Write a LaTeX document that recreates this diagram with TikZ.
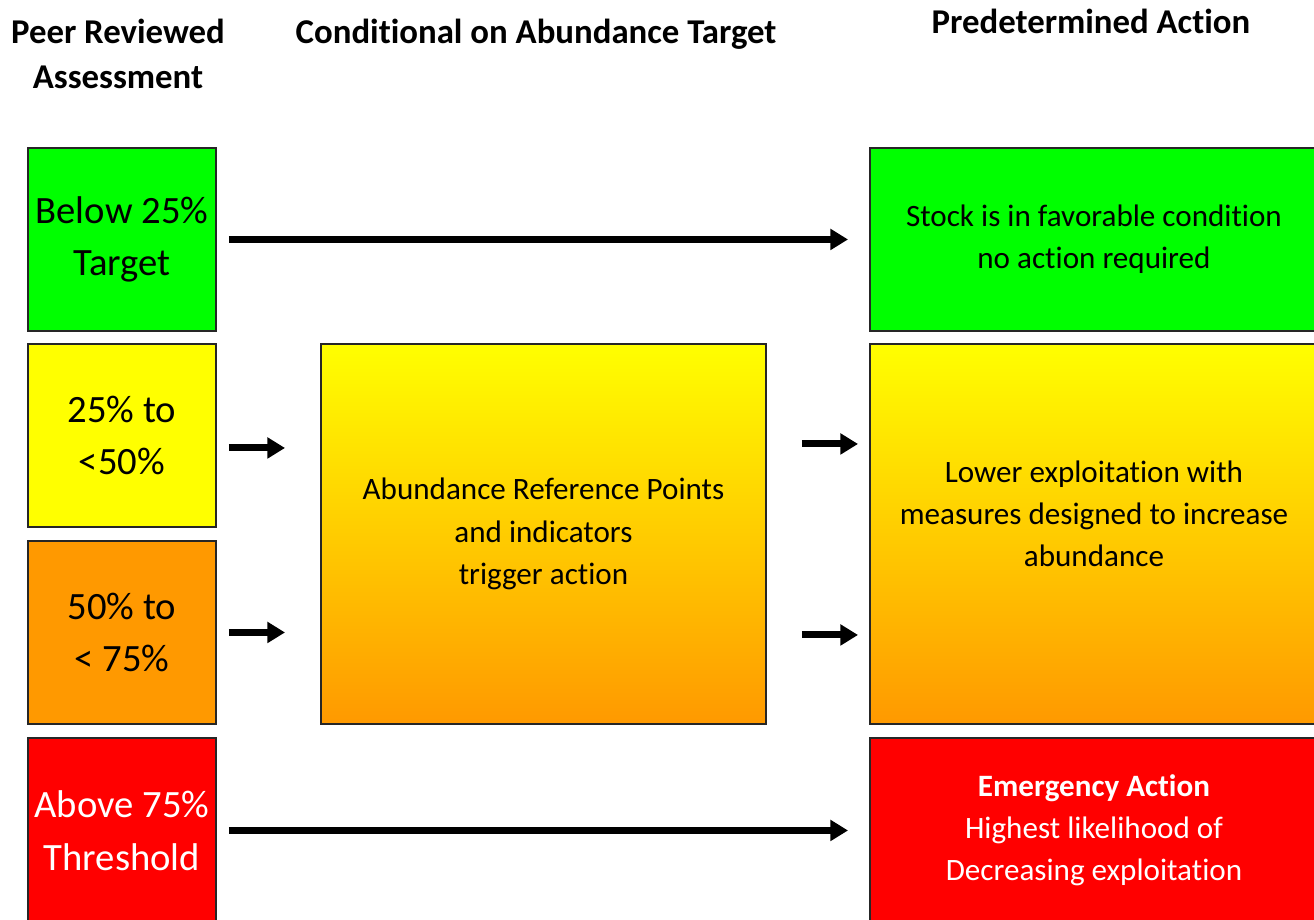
\documentclass[tikz,border=0pt]{standalone}
\usepackage{fontspec}
\setmainfont{Carlito}[Ligatures=NoCommon]
\usetikzlibrary{arrows.meta}
\definecolor{cgreen}{HTML}{00FF00}
\definecolor{cyellow}{HTML}{FFFF00}
\definecolor{corange}{HTML}{FF9900}
\definecolor{cred}{HTML}{FF0000}

\begin{document}
\begin{tikzpicture}[>={Triangle[length=10pt,width=11.5pt]},
  cell/.style={draw=black!85,line width=1.1pt,anchor=north west,align=center,inner sep=0pt},
  lefttext/.style={font=\fontsize{22}{30}\selectfont},
  righttext/.style={font=\fontsize{17.7}{24}\selectfont},
  head/.style={font=\fontsize{19.8}{26}\selectfont\bfseries,align=center},
  link/.style={->,line width=4pt}]
  \useasboundingbox (0,0) rectangle (26.28,-18.40);
  \clip (0,0) rectangle (26.28,-18.40);
  % column headers
  \node[head] (h1) at (2.36,-1.08) {Peer Reviewed\\Assessment};
  \node[head] (h2) at (10.72,-0.69) {Conditional on Abundance Target};
  \node[head] (h3) at (21.82,-0.42) {Predetermined Action};
  % assessment column
  \node[cell,lefttext,fill=cgreen,minimum width=3.76cm,minimum height=3.66cm] (lg) at (0.54,-2.94) {Below 25\%\\Target};
  \node[cell,lefttext,fill=cyellow,minimum width=3.76cm,minimum height=3.66cm] (ly) at (0.54,-6.86) {25\% to\\<50\%};
  \node[cell,lefttext,fill=corange,minimum width=3.76cm,minimum height=3.66cm] (lo) at (0.54,-10.80) {50\% to\\< 75\%};
  \node[cell,lefttext,fill=cred,text=white,minimum width=3.76cm,minimum height=3.70cm] (lr) at (0.54,-14.74) {Above 75\%\\Threshold};
  % middle box
  \node[cell,righttext,top color=cyellow,bottom color=corange,minimum width=8.90cm,minimum height=7.60cm] (mid) at (6.40,-6.86) {Abundance Reference Points\\and indicators\\trigger action};
  % action column
  \node[cell,righttext,fill=cgreen,minimum width=8.96cm,minimum height=3.66cm] (rg) at (17.38,-2.94) {Stock is in favorable condition\\no action required};
  \node[cell,top color=cyellow,bottom color=corange,minimum width=8.96cm,minimum height=7.60cm] (rm) at (17.38,-6.86) {};
  \node[righttext,align=center] (rmtext) at ([yshift=0.4cm]rm.center) {Lower exploitation with\\measures designed to increase\\abundance};
  \node[cell,righttext,fill=cred,text=white,minimum width=8.96cm,minimum height=3.70cm] (rr) at (17.38,-14.74) {{\bfseries Emergency Action}\\Highest likelihood of\\Decreasing exploitation};
  % arrows
  \draw[link,shorten <=0.24cm,shorten >=0.42cm] (lg.east) -- (rg.west);
  \draw[link,shorten <=0.24cm,shorten >=0.70cm] ([yshift=-0.25cm]ly.east) -- ([yshift=-0.25cm]ly.east -| mid.west);
  \draw[link,shorten <=0.24cm,shorten >=0.70cm] (lo.east) -- (lo.east -| mid.west);
  \draw[link,shorten <=0.70cm,shorten >=0.22cm] ([yshift=-0.17cm]ly.east -| mid.east) -- ([yshift=-0.17cm]ly.east -| rm.west);
  \draw[link,shorten <=0.70cm,shorten >=0.22cm] ([yshift=-0.05cm]lo.east -| mid.east) -- ([yshift=-0.05cm]lo.east -| rm.west);
  \draw[link,shorten <=0.24cm,shorten >=0.42cm] (lr.east) -- (lr.east -| rr.west);
\end{tikzpicture}
\end{document}
